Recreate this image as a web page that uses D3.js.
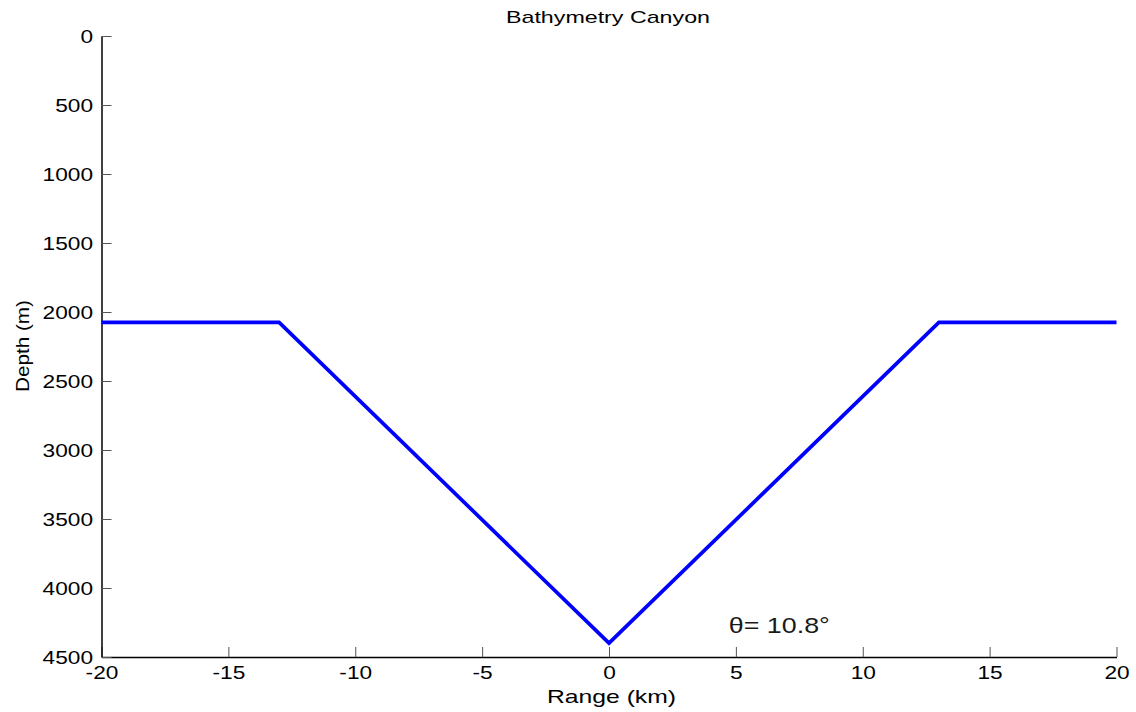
<!DOCTYPE html>
<html><head><meta charset="utf-8">
<script src="https://cdn.jsdelivr.net/npm/d3@7"></script>
<style>body{margin:0;background:#fff}svg{display:block}text{font-family:"Liberation Sans",Arial,sans-serif}</style>
</head><body><svg id="c" width="1136" height="712"></svg>
<script>
const rangeKm = [-20, -13, 0, 13, 20];
const depthM = [2075, 2075, 4400, 2075, 2075];
const xTicks = [-20, -15, -10, -5, 0, 5, 10, 15, 20];
const yTicks = [0, 500, 1000, 1500, 2000, 2500, 3000, 3500, 4000, 4500];
const titleText = "Bathymetry Canyon";
const xLabel = "Range (km)";
const yLabel = "Depth (m)";
const annotation = {x: 4.8, y: 4300, text: "θ= 10.8°"};

const svg = d3.select("#c");
const L = 101.5, R = 1116.5, T = 36, B = 657;
const x = d3.scaleLinear().domain([-20, 20]).range([L, R]);
const y = d3.scaleLinear().domain([0, 4500]).range([T, B]);
const fmt = d => String(d);

const xa = svg.append("g").attr("transform", `translate(0,${B})`)
  .call(d3.axisBottom(x).tickValues(xTicks).tickSizeInner(-10).tickSizeOuter(0).tickFormat(fmt));
const ya = svg.append("g").attr("transform", `translate(${L},0)`)
  .call(d3.axisLeft(y).tickValues(yTicks).tickSizeInner(-10).tickSizeOuter(0).tickFormat(fmt));
[xa, ya].forEach(a => {
  a.select(".domain").attr("stroke", "#000").attr("stroke-width", 1.5);
  a.selectAll(".tick line").attr("stroke", "#555").attr("stroke-width", 1);
  a.selectAll(".tick text").attr("font-size", 18).attr("fill", "#000")
    .attr("font-family", '"Liberation Sans",Arial,sans-serif');
});
xa.selectAll(".tick text").attr("y", 0).attr("dy", 0).attr("transform", "translate(0,22) scale(1.26,1)");
ya.selectAll(".tick text").attr("x", 0).attr("dy", "0.36em").attr("transform", "translate(-8.5,0) scale(1.26,1)");

const line = d3.line().x((d, i) => x(rangeKm[i])).y(d => y(d));
svg.append("path").datum(depthM).attr("d", line)
  .attr("fill", "none").attr("stroke", "#0000ff").attr("stroke-width", 3.7).attr("stroke-linejoin", "miter");

svg.append("text").attr("x", 506).attr("y", 23.3)
  .attr("font-size", 17).attr("textLength", 204).attr("lengthAdjust", "spacingAndGlyphs").text(titleText);
svg.append("text").attr("x", 547).attr("y", 703)
  .attr("font-size", 18.5).attr("textLength", 129).attr("lengthAdjust", "spacingAndGlyphs").text(xLabel);
svg.append("text").attr("transform", `translate(28.5,392) rotate(-90)`)
  .attr("font-size", 18).attr("textLength", 92).attr("lengthAdjust", "spacingAndGlyphs").text(yLabel);
svg.append("text").attr("x", x(annotation.x) - 2).attr("y", y(annotation.y) + 4)
  .attr("font-size", 22).attr("fill", "#1a1a1a")
  .attr("font-family", '"Open Sans","DejaVu Sans",sans-serif')
  .attr("textLength", 101).attr("lengthAdjust", "spacingAndGlyphs")
  .text(annotation.text);
</script></body></html>
